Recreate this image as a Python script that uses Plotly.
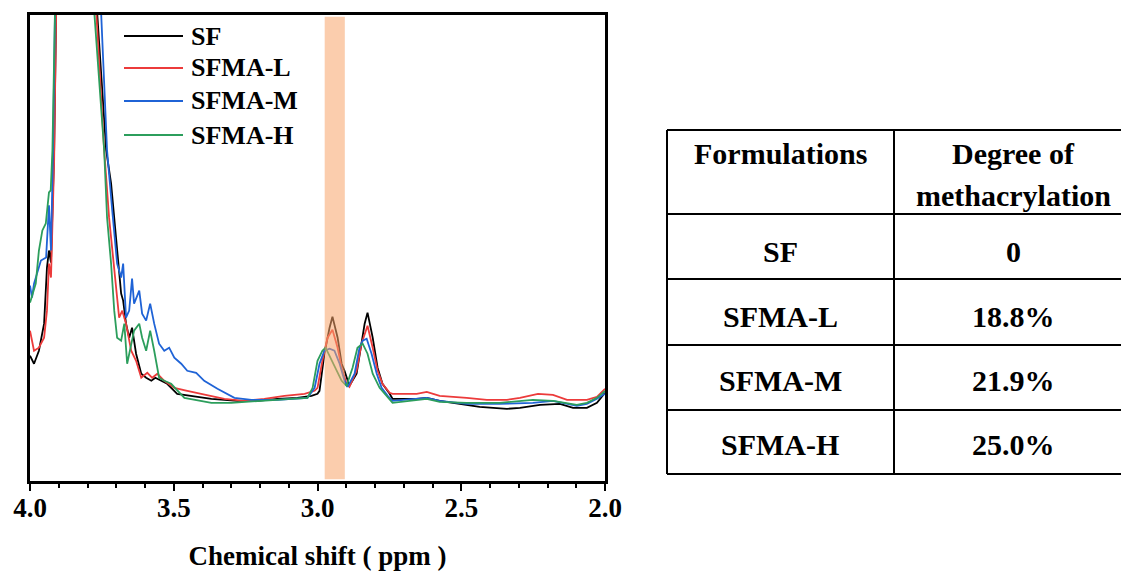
import plotly.graph_objects as go

# ---------------- data (ppm, intensity in arbitrary units) ----------------
series_names = ["SF", "SFMA-L", "SFMA-M", "SFMA-H"]
series_colors = ["#000000", "#ec3b3b", "#1f63d6", "#2c9e5c"]

sf_ppm = [4.000, 3.986, 3.969, 3.951, 3.941, 3.934, 3.927, 3.916, 3.909, 3.843,
          3.767, 3.735, 3.718, 3.700, 3.683, 3.676, 3.666, 3.655, 3.645, 3.631,
          3.613, 3.596, 3.578, 3.564, 3.544, 3.523, 3.488, 3.439, 3.369, 3.279,
          3.209, 3.139, 3.070, 3.021, 3.000, 2.993, 2.976, 2.958, 2.948, 2.930,
          2.916, 2.906, 2.895, 2.889, 2.864, 2.847, 2.836, 2.826, 2.808, 2.791,
          2.774, 2.749, 2.739, 2.655, 2.620, 2.575, 2.505, 2.436, 2.341, 2.296,
          2.226, 2.157, 2.111, 2.063, 2.028, 2.000]
sf_int = [125, 117, 130, 157, 213, 230, 218, 330, 470, 3000,
          470, 330, 297, 237, 187, 180, 157, 143, 153, 127,
          107, 103, 100, 103, 100, 97, 87, 85, 82, 80,
          80, 82, 83, 85, 87, 90, 127, 153, 164, 143,
          117, 110, 100, 95, 107, 137, 157, 168, 143, 113,
          97, 87, 82, 82, 83, 80, 77, 74, 72, 73,
          76, 77, 73, 73, 78, 88]

sfl_ppm = [4.000, 3.986, 3.969, 3.951, 3.941, 3.934, 3.927, 3.916, 3.909, 3.843,
           3.770, 3.742, 3.725, 3.707, 3.690, 3.679, 3.666, 3.648, 3.631, 3.613,
           3.592, 3.575, 3.557, 3.533, 3.498, 3.453, 3.404, 3.324, 3.254, 3.185,
           3.115, 3.045, 3.010, 3.000, 2.983, 2.965, 2.948, 2.930, 2.916, 2.899,
           2.889, 2.864, 2.847, 2.836, 2.826, 2.808, 2.791, 2.774, 2.749, 2.739,
           2.655, 2.620, 2.575, 2.481, 2.411, 2.341, 2.296, 2.233, 2.181, 2.132,
           2.063, 2.028, 2.000]
sfl_int = [150, 130, 133, 143, 170, 217, 203, 320, 470, 3000,
           470, 330, 263, 213, 163, 170, 157, 130, 120, 103,
           108, 103, 107, 100, 93, 90, 87, 82, 80, 82,
           85, 87, 90, 93, 120, 143, 151, 133, 113, 97,
           94, 110, 137, 147, 155, 133, 110, 97, 88, 87,
           87, 89, 85, 83, 81, 81, 83, 87, 86, 81,
           81, 84, 92]

sfm_ppm = [4.000, 3.993, 3.986, 3.962, 3.944, 3.934, 3.927, 3.920, 3.913, 3.843,
           3.753, 3.732, 3.714, 3.697, 3.683, 3.676, 3.666, 3.655, 3.645, 3.638,
           3.620, 3.610, 3.596, 3.582, 3.568, 3.551, 3.533, 3.516, 3.498, 3.474,
           3.453, 3.422, 3.394, 3.348, 3.289, 3.230, 3.139, 3.035, 3.010, 2.993,
           2.976, 2.958, 2.941, 2.923, 2.906, 2.895, 2.871, 2.854, 2.843, 2.829,
           2.812, 2.794, 2.777, 2.756, 2.739, 2.620, 2.575, 2.481, 2.366, 2.251,
           2.181, 2.098, 2.063, 2.028, 2.000]
sfm_int = [195, 183, 197, 220, 223, 275, 230, 330, 470, 3000,
           470, 330, 270, 217, 203, 217, 163, 170, 202, 177,
           190, 167, 160, 177, 157, 137, 130, 133, 123, 117,
           110, 108, 100, 92, 83, 81, 81, 83, 93, 117,
           130, 132, 130, 117, 100, 94, 107, 133, 140, 142,
           127, 107, 93, 85, 80, 83, 80, 77, 77, 78,
           80, 75, 77, 82, 87]

sfh_ppm = [4.000, 3.980, 3.969, 3.957, 3.945, 3.934, 3.928, 3.922, 3.913, 3.843,
           3.777, 3.742, 3.732, 3.718, 3.707, 3.697, 3.683, 3.672, 3.662, 3.648,
           3.638, 3.620, 3.610, 3.596, 3.582, 3.568, 3.551, 3.533, 3.509, 3.463,
           3.369, 3.300, 3.209, 3.091, 3.035, 3.017, 3.000, 2.983, 2.972, 2.951,
           2.934, 2.916, 2.899, 2.878, 2.861, 2.843, 2.826, 2.808, 2.784, 2.760,
           2.739, 2.620, 2.575, 2.481, 2.366, 2.251, 2.181, 2.098, 2.063, 2.028,
           2.000]
sfh_int = [178, 197, 230, 250, 257, 288, 290, 330, 470, 3000,
           470, 330, 263, 217, 170, 143, 140, 157, 117, 137,
           150, 157, 143, 130, 150, 130, 103, 100, 97, 83,
           78, 78, 80, 82, 83, 93, 120, 130, 133, 120,
           110, 100, 95, 113, 133, 137, 127, 107, 93, 85,
           78, 82, 79, 78, 78, 81, 80, 76, 78, 83,
           90]

band_ppm = [2.975, 2.905]           # highlighted region
x_range = [4.0, 2.0]
y_range = [0, 465]
x_ticks = [4.0, 3.5, 3.0, 2.5, 2.0]
x_tick_text = ["4.0", "3.5", "3.0", "2.5", "2.0"]
x_title = "Chemical shift ( ppm )"

table_header = ["Formulations", "Degree of", "methacrylation"]
table_col1 = ["SF", "SFMA-L", "SFMA-M", "SFMA-H"]
table_col2 = ["0", "18.8%", "21.9%", "25.0%"]

all_x = [sf_ppm, sfl_ppm, sfm_ppm, sfh_ppm]
all_y = [sf_int, sfl_int, sfm_int, sfh_int]

# ---------------- layout geometry (pixels) ----------------
W, H = 1121, 573
L, R, T, B = 30, 605, 15, 481
FONT = "Liberation Serif"


def px(x):
    return (x - L) / (R - L)


def py(y):
    return (B - y) / (B - T)


fig = go.Figure()
for name, color, xs, ys in zip(series_names, series_colors, all_x, all_y):
    fig.add_trace(go.Scatter(x=xs, y=ys, mode="lines", name=name,
                             line=dict(color=color, width=1.8),
                             showlegend=False))

shapes = []
annotations = []

# highlight band (drawn above traces, semi-transparent)
shapes.append(dict(type="rect", xref="x", yref="paper",
                   x0=band_ppm[0], x1=band_ppm[1], y0=0.004, y1=0.996,
                   fillcolor="#f8a46a", opacity=0.55, line=dict(width=0),
                   layer="above"))

# manual legend
leg_rows = [36, 68, 101, 135]
for name, color, ry in zip(series_names, series_colors, leg_rows):
    shapes.append(dict(type="line", xref="paper", yref="paper",
                       x0=px(124), x1=px(183), y0=py(ry), y1=py(ry),
                       line=dict(color=color, width=2)))
    annotations.append(dict(xref="paper", yref="paper", x=px(189), y=py(ry),
                            text=name, showarrow=False, xanchor="left",
                            yanchor="middle",
                            font=dict(family=FONT, size=26, color="black",
                                      weight="bold")))

# table
tl, tm, tr = 667, 894, 1130
t_rows = [130, 214, 279, 345, 410, 474]
for yy in t_rows:
    shapes.append(dict(type="line", xref="paper", yref="paper",
                       x0=px(tl), x1=px(tr), y0=py(yy), y1=py(yy),
                       line=dict(color="black", width=2)))
for xx in [tl, tm]:
    shapes.append(dict(type="line", xref="paper", yref="paper",
                       x0=px(xx), x1=px(xx), y0=py(t_rows[0]), y1=py(t_rows[-1]),
                       line=dict(color="black", width=2)))

c1, c2 = 780, 1013
tfont = dict(family=FONT, size=30, color="black", weight="bold")


def tann(x, y, s):
    annotations.append(dict(xref="paper", yref="paper", x=px(x), y=py(y),
                            text=s, showarrow=False, xanchor="center",
                            yanchor="middle", font=tfont))


tann(c1, 153, table_header[0])
tann(c2, 153, table_header[1])
tann(c2, 195, table_header[2])
for s1, s2, yy in zip(table_col1, table_col2, [251, 316, 380, 444]):
    tann(c1, yy, s1)
    tann(c2, yy, s2)

fig.update_layout(
    width=W, height=H,
    margin=dict(l=L, r=W - R, t=T, b=H - B, autoexpand=False),
    paper_bgcolor="white", plot_bgcolor="white",
    shapes=shapes, annotations=annotations,
    showlegend=False,
    xaxis=dict(range=x_range, tickmode="array", tickvals=x_ticks,
               ticktext=x_tick_text, ticks="outside", ticklen=7, tickwidth=2,
               tickcolor="black", ticklabelstandoff=-6,
               minor=dict(dtick=0.1, ticks="outside", ticklen=4, tickwidth=2,
                          tickcolor="black"),
               showline=True, linecolor="black", linewidth=3, mirror=True,
               showgrid=False, zeroline=False,
               tickfont=dict(family=FONT, size=27, color="black", weight="bold"),
               title=dict(text=x_title, standoff=24,
                          font=dict(family=FONT, size=27, color="black",
                                    weight="bold"))),
    yaxis=dict(range=y_range, showticklabels=False, ticks="",
               showline=True, linecolor="black", linewidth=3, mirror=True,
               showgrid=False, zeroline=False),
)

fig.write_html("out.html", config={"displayModeBar": False},
               post_script="document.body.style.margin='0';"
                           "document.body.style.overflow='hidden';")
